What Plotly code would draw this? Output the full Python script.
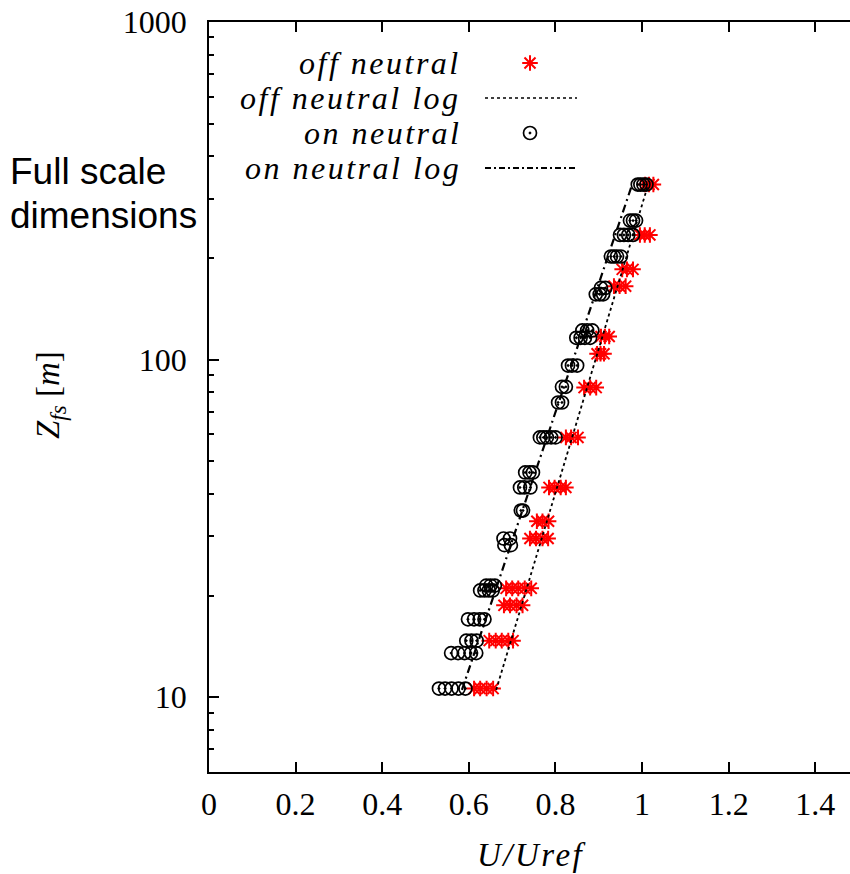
import math
import plotly.graph_objects as go

# ---------------- data ----------------
on_levels = [330, 258, 234, 202, 163, 156, 122, 116, 96, 83, 74.6, 58.8, 46.3,
             41.8, 35.7, 29.5, 28.2, 21.4, 20.7, 17.0, 14.7, 13.5, 10.6]
on_values = [
    [0.990, 0.996, 1.003, 1.010],
    [0.972, 0.979, 0.986],
    [0.949, 0.958, 0.968, 0.979],
    [0.928, 0.935, 0.942, 0.951],
    [0.905, 0.915],
    [0.893, 0.902, 0.910],
    [0.862, 0.873, 0.885],
    [0.848, 0.858, 0.868, 0.880],
    [0.829, 0.838, 0.850],
    [0.815, 0.824],
    [0.806, 0.815],
    [0.764, 0.772, 0.780, 0.790, 0.800],
    [0.730, 0.740, 0.748],
    [0.718, 0.728, 0.742],
    [0.720, 0.725],
    [0.680, 0.695],
    [0.682, 0.697],
    [0.640, 0.650, 0.660],
    [0.626, 0.636, 0.646, 0.655],
    [0.598, 0.612, 0.625, 0.636],
    [0.594, 0.606, 0.618],
    [0.559, 0.575, 0.590, 0.605, 0.617],
    [0.531, 0.545, 0.560, 0.576, 0.592],
]

off_levels = [330, 234, 185, 165, 117, 104, 82.6, 58.8, 41.8, 33.2, 29.5,
              21.0, 18.7, 14.7, 10.6]
off_values = [
    [1.007, 1.016, 1.026],
    [0.995, 1.006, 1.018],
    [0.954, 0.965, 0.979],
    [0.935, 0.948, 0.962],
    [0.905, 0.914, 0.924],
    [0.896, 0.904, 0.912],
    [0.866, 0.880, 0.894],
    [0.824, 0.836, 0.852],
    [0.785, 0.798, 0.812, 0.824],
    [0.757, 0.770, 0.784],
    [0.741, 0.755, 0.770, 0.783],
    [0.686, 0.700, 0.714, 0.729, 0.744],
    [0.681, 0.695, 0.710, 0.724],
    [0.647, 0.662, 0.676, 0.691, 0.702],
    [0.612, 0.626, 0.641, 0.656],
]

off_log_z = [10.5, 330]
off_log_u = [0.663, 1.014]
on_log_z = [10.5, 330]
on_log_u = [0.584, 0.977]

x_tickvals = [0, 0.2, 0.4, 0.6, 0.8, 1.0, 1.2, 1.4]
x_ticktext = ["0", "0.2", "0.4", "0.6", "0.8", "1", "1.2", "1.4"]
y_tickvals = [10, 100, 1000]
y_ticktext = ["10", "100", "1000"]
y_minor = [6, 7, 8, 9, 20, 30, 40, 50, 60, 70, 80, 90,
           200, 300, 400, 500, 600, 700, 800, 900]

legend_labels = ["off neutral", "off neutral log", "on neutral", "on neutral log"]


def flatten(levels, values):
    us, zs = [], []
    for z, vals in zip(levels, values):
        for u in vals:
            us.append(u)
            zs.append(z)
    return us, zs


on_u, on_z = flatten(on_levels, on_values)
off_u, off_z = flatten(off_levels, off_values)

# ---------------- styles ----------------
RED = "#ff0000"
SERIF = "Liberation Serif"
star_marker = dict(symbol="asterisk-open", size=13, line=dict(color=RED, width=2), color=RED)
circ_marker = dict(symbol="circle-open-dot", size=13, line=dict(color="black", width=1.7), color="black")
dot_line = dict(color="black", width=1.8, dash="dot")
dd_line = dict(color="black", width=2.2, dash="8px,4px,2px,4px")

fig = go.Figure()

fig.add_trace(go.Scatter(x=off_u, y=off_z, mode="markers", marker=star_marker, showlegend=False))
fig.add_trace(go.Scatter(x=off_log_u, y=off_log_z, mode="lines", line=dot_line, showlegend=False))
fig.add_trace(go.Scatter(x=on_u, y=on_z, mode="markers", marker=circ_marker, showlegend=False))
fig.add_trace(go.Scatter(x=on_log_u, y=on_log_z, mode="lines", line=dd_line, showlegend=False))

# ---------------- gnuplot-style key (overlay axes in pixel units) ----------------
L, R, T, B = 209, 850, 22, 772
key_text_x = 463
key_sample_x = 530
key_line_x = [485, 577]
key_row0 = 63
key_step = 35
rows = [key_row0 + i * key_step for i in range(4)]

fig.add_trace(go.Scatter(x=[key_sample_x], y=[rows[0]], xaxis="x2", yaxis="y2",
                         mode="markers", marker=star_marker, showlegend=False))
fig.add_trace(go.Scatter(x=key_line_x, y=[rows[1]] * 2, xaxis="x2", yaxis="y2",
                         mode="lines", line=dict(color="black", width=1.5, dash="dot"), showlegend=False))
fig.add_trace(go.Scatter(x=[key_sample_x], y=[rows[2]], xaxis="x2", yaxis="y2",
                         mode="markers", marker=circ_marker, showlegend=False))
fig.add_trace(go.Scatter(x=key_line_x, y=[rows[3]] * 2, xaxis="x2", yaxis="y2",
                         mode="lines", line=dict(color="black", width=2, dash="6px,3px,2px,3px"), showlegend=False))

annotations = []
for lab, ry in zip(legend_labels, rows):
    annotations.append(dict(
        x=key_text_x, y=ry, xref="x2", yref="y2", xanchor="right", yanchor="middle",
        text="<i><span style='letter-spacing:2.5px'>%s</span></i>" % lab,
        showarrow=False, font=dict(family=SERIF, size=32, color="black")))

W = R - L
H = B - T
# axis titles
annotations.append(dict(
    x=(531 - L) / W, y=-(855 - B) / H, xref="paper", yref="paper",
    xanchor="center", yanchor="middle", showarrow=False,
    text="<i><span style='letter-spacing:2.5px'>U/Uref</span></i>",
    font=dict(family=SERIF, size=33, color="black")))
annotations.append(dict(
    x=(50 - L) / W, y=1 - (395 - T) / H, xref="paper", yref="paper",
    xanchor="center", yanchor="middle", showarrow=False, textangle=-90,
    text="<i>Z<sub>fs</sub></i> [<i>m</i>]", font=dict(family=SERIF, size=33, color="black")))
# side note
for txt, py in (("Full scale", 172), ("dimensions", 215)):
    annotations.append(dict(
        x=(8 - L) / W, y=1 - (py - T) / H, xref="paper", yref="paper",
        xanchor="left", yanchor="middle", showarrow=False, text=txt,
        font=dict(family="Liberation Sans", size=37, color="black")))

fig.update_layout(
    width=850, height=874,
    margin=dict(l=L, r=850 - R, t=T, b=874 - B),
    paper_bgcolor="white", plot_bgcolor="white",
    showlegend=False,
    annotations=annotations,
    xaxis=dict(range=[0, 1.48], showline=True, linecolor="black", linewidth=1.5,
               mirror="ticks", ticks="inside", ticklen=10, tickwidth=1.5, tickcolor="black",
               tickmode="array", tickvals=x_tickvals, ticktext=x_ticktext,
               tickfont=dict(family=SERIF, size=32, color="black"),
               showgrid=False, zeroline=False, ticklabelstandoff=3),
    yaxis=dict(type="log", range=[math.log10(6), 3], showline=True, linecolor="black",
               linewidth=1.5, ticks="inside", ticklen=10, tickwidth=1.5, tickcolor="black",
               tickmode="array", tickvals=y_tickvals, ticktext=y_ticktext,
               tickfont=dict(family=SERIF, size=32, color="black"),
               minor=dict(tickmode="array", tickvals=y_minor, ticks="inside", ticklen=5,
                          tickwidth=1.5, tickcolor="black", showgrid=False),
               showgrid=False, zeroline=False, ticklabelstandoff=14),
    xaxis2=dict(overlaying="x", range=[L, R], visible=False, fixedrange=True),
    yaxis2=dict(overlaying="y", range=[B, T], visible=False, fixedrange=True),
)

fig.write_html("out.html")
